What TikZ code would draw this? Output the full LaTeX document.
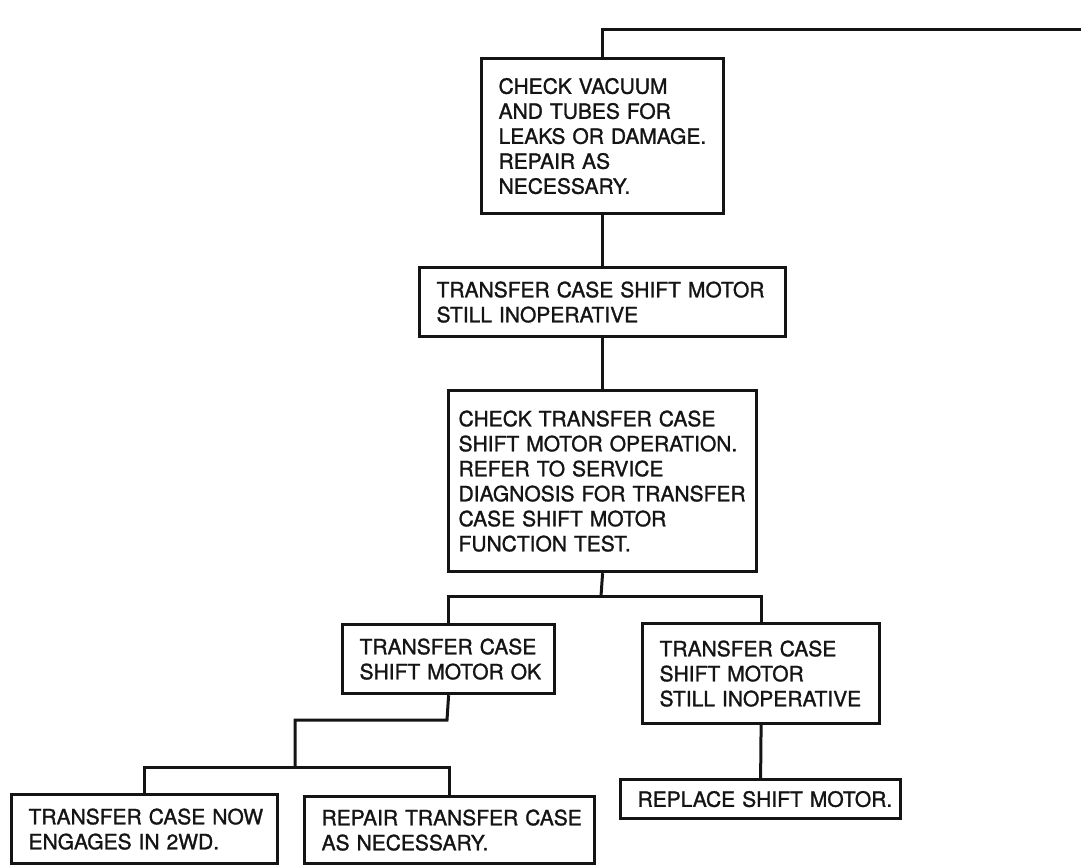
\documentclass[tikz,border=0pt]{standalone}
\usepackage{fontspec}
\setmainfont{TeX Gyre Heros}
\newfontfamily\hfont{TeX Gyre Heros}[FakeBold=1.3]
\newcommand{\oneline}[1]{\mbox{#1}}
\begin{document}
\begin{tikzpicture}[x=1pt,y=-1pt,
  ink/.style={draw=black!92, line width=3.2pt},
  fbox/.style={ink, anchor=north west, inner ysep=0pt, inner xsep=17pt,
    align=left, font=\hfont\fontsize{21}{25}\selectfont, text=black!92},
  link/.style={draw=black!92, line width=3pt, line join=miter}]
\useasboundingbox (0,0) rectangle (1081,865);
% boxes
\node[fbox, text width=208pt, minimum height=155pt] (b1) at (480,57)
  {\oneline{CHECK VACUUM}\\\oneline{AND TUBES FOR}\\\oneline{LEAKS OR DAMAGE.}\\\oneline{REPAIR AS}\\\oneline{NECESSARY.}};
\node[fbox, text width=332pt, minimum height=69pt] (b2) at (418,266)
  {\oneline{TRANSFER CASE SHIFT MOTOR}\\\oneline{STILL INOPERATIVE}};
\node[fbox, inner xsep=10pt, text width=288pt, minimum height=181pt] (b3) at (447,389)
  {\oneline{CHECK TRANSFER CASE}\\\oneline{SHIFT MOTOR OPERATION.}\\\oneline{REFER TO SERVICE}\\\oneline{DIAGNOSIS FOR TRANSFER}\\\oneline{CASE SHIFT MOTOR}\\\oneline{FUNCTION TEST.}};
\node[fbox, text width=178pt, minimum height=69pt] (b4) at (341,623)
  {\oneline{TRANSFER CASE}\\\oneline{SHIFT MOTOR OK}};
\node[fbox, text width=203pt, minimum height=100pt] (b5) at (641,622)
  {\oneline{TRANSFER CASE}\\\oneline{SHIFT MOTOR}\\\oneline{STILL INOPERATIVE}};
\node[fbox, text width=246pt, minimum height=39pt] (b6) at (619,778)
  {\oneline{REPLACE SHIFT MOTOR.}};
\node[fbox, text width=232pt, minimum height=69pt] (b7) at (10,793)
  {\oneline{TRANSFER CASE NOW}\\\oneline{ENGAGES IN 2WD.}};
\node[fbox, text width=256pt, minimum height=67pt] (b8) at (303,795)
  {\oneline{REPAIR TRANSFER CASE}\\\oneline{AS NECESSARY.}};
% junction points
\coordinate (exit) at (1081,29);
\coordinate (j1) at (601,596);
\coordinate (j2) at (447,720);
\coordinate (j3) at (295,720);
\coordinate (j4) at (295,767);
% connectors
\draw[link] (b1.north) |- (exit);
\draw[link] (b1.south) -- (b2.north);
\draw[link] (b2.south) -- (b3.north);
\draw[link] (b3.south) -- (j1);
\draw[link] (b4.north) -- (b4.north |- j1) -- (b5.north |- j1) -- (b5.north);
\draw[link] (b5.south) -- (b6.north);
\draw[link] (b4.south) -- (j2) -- (j3) -- (j4);
\draw[link] (b7.north) -- (b7.north |- j4) -- (b8.north |- j4) -- (b8.north);
\end{tikzpicture}
\end{document}
